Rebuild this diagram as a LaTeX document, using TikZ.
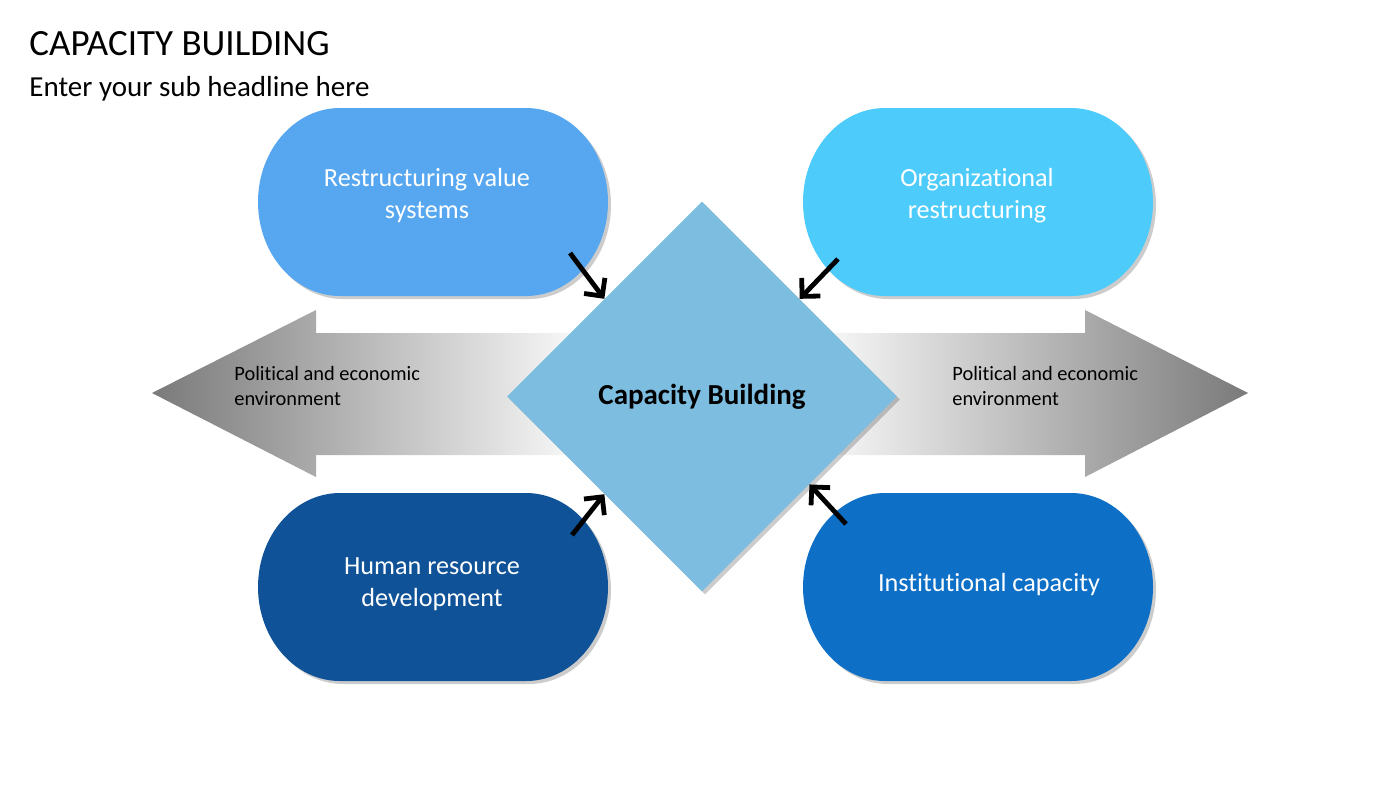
\documentclass[tikz,border=0pt]{standalone}
\usepackage{fontspec}
\setmainfont{Carlito}[Ligatures=NoCommon]
\usetikzlibrary{shapes.geometric,arrows.meta,shadows,calc}
\definecolor{cTL}{HTML}{57A7F0}
\definecolor{cTR}{HTML}{4DCBFB}
\definecolor{cBL}{HTML}{0F5297}
\definecolor{cBR}{HTML}{0E6FC6}
\definecolor{cDia}{HTML}{7DBDE0}
\definecolor{cGray}{HTML}{7A7A7A}
\tikzset{
  boxshadow/.style={drop shadow={fill=black,opacity=0.2,shadow xshift=1.5pt,shadow yshift=-1.5pt}},
  boxtext/.style={text=white,align=center,font=\fontsize{13.1}{16}\selectfont},
  envtext/.style={text=black,align=left,anchor=west,inner sep=0,font=\fontsize{10.2}{12.5}\selectfont},
  feed/.style={line width=2.4pt,-{Straight Barb[length=6.5pt,width=13pt]}},
}
\newcommand\capsule[3]{\fill[#3,boxshadow] (#1+82,#2) -- (#1+268,#2) arc[start angle=-90,end angle=90,x radius=82,y radius=94] -- (#1+82,#2+188) arc[start angle=90,end angle=270,x radius=82,y radius=94] -- cycle;}
\begin{document}
\begin{tikzpicture}[x=0.5pt,y=-0.5pt]
\useasboundingbox (0,0) rectangle (1400,788);
% title
\node[anchor=base west,inner sep=0,font=\fontsize{18.5}{22}\selectfont] (title) at (29,55) {CAPACITY BUILDING};
\node[anchor=base west,inner sep=0,font=\fontsize{14.5}{18}\selectfont] (sub) at (29,96) {Enter your sub headline here};
% big arrows
\shade[left color=cGray,right color=white] (152,393) -- (316,310) -- (316,333) -- (600,333) -- (600,455) -- (316,455) -- (316,477) -- cycle;
\shade[left color=white,right color=cGray] (1248,393) -- (1085,310) -- (1085,333) -- (800,333) -- (800,455) -- (1085,455) -- (1085,477) -- cycle;
\node[envtext] (envL) at (234,386) {Political and economic\\environment};
\node[envtext] (envR) at (952,386) {Political and economic\\environment};
% diamond
\node[diamond,aspect=1,minimum width=195pt,minimum height=195pt,inner sep=0,fill=cDia,boxshadow,font=\bfseries\fontsize{14.5}{17}\selectfont] (cb) at (702,396.5) {Capacity Building};
% boxes
\capsule{258}{108}{cTL}
\capsule{803}{108}{cTR}
\capsule{258}{493}{cBL}
\capsule{803}{493}{cBR}
\node[boxtext] (rv) at (427,196) {Restructuring value\\systems};
\node[boxtext] (or) at (977,196) {Organizational\\restructuring};
\node[boxtext] (hr) at (432,584) {Human resource\\development};
\node[boxtext] (ic) at (989,585) {Institutional capacity};
% feed arrows
\coordinate (sTL) at (570,253);
\coordinate (sTR) at (838,259);
\coordinate (sBL) at (572,535);
\coordinate (sBR) at (846,524);
\draw[feed] (sTL) -- (cb.north west);
\draw[feed] (sTR) -- (cb.north east);
\draw[feed] (sBL) -- (cb.south west);
\draw[feed] (sBR) -- ($(cb.east)!0.45!(cb.south)$);
\end{tikzpicture}
\end{document}
